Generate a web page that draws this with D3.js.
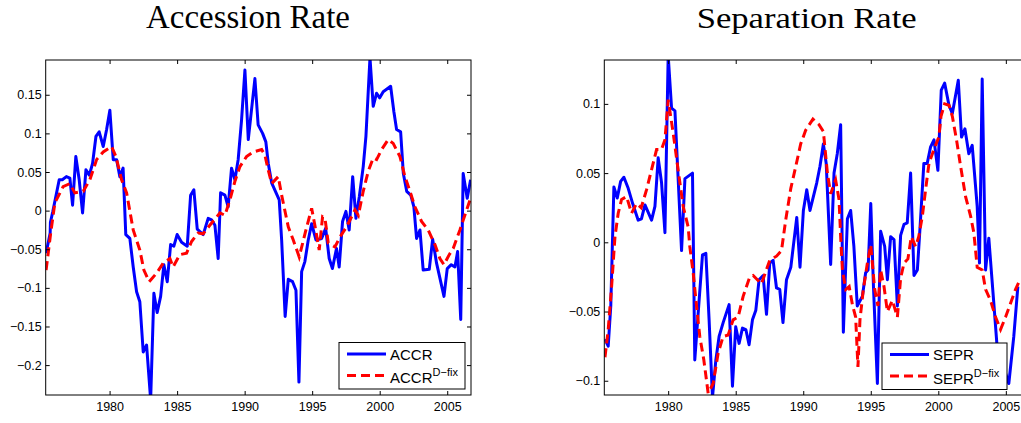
<!DOCTYPE html>
<html>
<head>
<meta charset="utf-8">
<script src="https://cdn.jsdelivr.net/npm/d3@7"></script>
<style>
	body { margin: 0; background: #fff; }
	svg { display: block; }
</style>
</head>
<body>
<div id="chart"></div>
<script>
// accession rate, quarterly
const accrYears = [1975.30,1975.60,1975.62,1975.80,1976.27,1976.50,1976.80,1977.06,1977.26,1977.50,1977.75,1978.00,1978.25,1978.50,1978.74,1978.99,1979.23,1979.53,1979.78,1980.02,1980.27,1980.52,1980.76,1981.00,1981.20,1981.50,1981.75,1982.00,1982.24,1982.49,1982.74,1983.04,1983.28,1983.52,1983.78,1984.02,1984.27,1984.52,1984.76,1985.00,1985.33,1985.75,1986.00,1986.24,1986.49,1986.93,1987.30,1987.55,1987.80,1988.04,1988.22,1988.54,1988.78,1989.03,1989.28,1989.52,1989.77,1990.02,1990.27,1990.76,1991.00,1991.33,1991.57,1991.75,1992.00,1992.56,1992.74,1993.00,1993.23,1993.55,1993.80,1994.02,1994.22,1994.46,1994.71,1994.96,1995.28,1995.70,1996.00,1996.26,1996.50,1996.80,1997.00,1997.25,1997.50,1997.74,1998.00,1998.24,1998.49,1998.78,1998.98,1999.28,1999.52,1999.77,2000.00,2000.26,2000.81,2001.05,2001.25,2001.55,2001.75,2002.00,2002.30,2002.53,2002.73,2002.98,2003.22,2003.67,2003.92,2004.21,2004.76,2005.00,2005.30,2005.57,2005.77,2006.00,2006.18,2006.48,2006.73];
const accrValues = [-0.055,-0.029,-0.015,-0.001,0.040,0.040,0.044,0.042,0.007,0.070,0.040,-0.003,0.053,0.046,0.061,0.096,0.102,0.083,0.105,0.130,0.066,0.066,0.044,0.055,-0.031,-0.036,-0.073,-0.105,-0.118,-0.183,-0.174,-0.245,-0.107,-0.132,-0.111,-0.070,-0.092,-0.044,-0.046,-0.031,-0.041,-0.046,0.020,0.027,-0.024,-0.031,-0.010,-0.012,-0.019,-0.062,0.023,0.020,0.005,0.055,0.040,0.066,0.117,0.182,0.092,0.171,0.111,0.100,0.089,0.061,0.036,0.014,-0.038,-0.137,-0.089,-0.092,-0.103,-0.222,-0.079,-0.066,-0.038,-0.017,-0.038,-0.036,-0.023,-0.062,-0.075,-0.049,-0.073,-0.014,-0.001,-0.025,0.044,-0.010,0.018,0.057,0.096,0.198,0.135,0.152,0.146,0.154,0.161,0.128,0.105,0.102,0.048,0.025,0.020,0.005,-0.036,-0.025,-0.077,-0.076,-0.037,-0.068,-0.111,-0.075,-0.070,-0.073,-0.053,-0.141,0.048,0.016,0.040];

const accrFixYears = [1975.30,1975.64,1975.95,1976.56,1977.06,1977.43,1978.05,1978.54,1979.04,1979.53,1980.15,1980.47,1980.89,1981.26,1981.75,1982.24,1982.54,1982.93,1983.48,1983.97,1984.47,1984.70,1985.20,1985.70,1986.07,1986.56,1986.93,1987.42,1988.17,1988.54,1988.91,1989.28,1989.65,1990.14,1990.64,1991.26,1991.50,1991.74,1992.00,1992.49,1992.74,1993.23,1993.60,1994.04,1994.54,1994.96,1995.20,1995.52,1995.77,1995.95,1996.19,1996.69,1997.06,1997.55,1998.17,1998.42,1998.78,1999.15,1999.52,1999.77,2000.14,2000.63,2001.00,2001.50,2001.87,2002.24,2002.61,2003.10,2003.59,2004.09,2004.46,2004.76,2005.15,2005.44,2005.94,2006.44,2006.73];
const accrFixValues = [-0.077,-0.029,0.010,0.031,0.035,0.023,0.025,0.040,0.066,0.076,0.083,0.070,0.040,0.023,-0.025,-0.051,-0.077,-0.092,-0.081,-0.068,-0.062,-0.073,-0.057,-0.055,-0.040,-0.029,-0.030,-0.019,-0.003,-0.006,0.014,0.038,0.057,0.070,0.076,0.079,0.072,0.053,0.035,0.044,0.020,-0.021,-0.038,-0.060,-0.025,0.003,-0.019,-0.051,-0.008,-0.010,-0.042,-0.047,-0.034,-0.021,0.001,-0.006,0.025,0.051,0.068,0.066,0.079,0.092,0.087,0.070,0.044,0.025,0.005,-0.014,-0.025,-0.044,-0.062,-0.070,-0.057,-0.049,-0.025,0.001,0.016];

// separation rate
const seprYears = [1975.32,1975.56,1975.75,1975.98,1976.23,1976.48,1976.72,1977.04,1977.37,1977.78,1978.02,1978.28,1978.77,1979.02,1979.26,1979.51,1979.76,1980.00,1980.25,1980.50,1980.99,1981.24,1981.80,1981.97,1982.29,1982.54,1982.79,1983.03,1983.28,1983.53,1983.77,1984.07,1984.51,1984.76,1985.00,1985.25,1985.50,1985.75,1985.99,1986.24,1986.49,1986.73,1987.03,1987.28,1987.52,1987.77,1988.02,1988.26,1988.50,1988.76,1989.08,1989.52,1989.76,1990.01,1990.26,1990.50,1991.00,1991.24,1991.49,1991.70,1992.03,1992.28,1992.52,1992.77,1992.97,1993.27,1993.51,1993.75,1994.00,1994.38,1994.62,1994.80,1995.00,1995.20,1995.49,1995.73,1996.03,1996.23,1996.47,1996.72,1996.97,1997.21,1997.46,1997.70,1997.95,1998.20,1998.45,1998.65,1998.93,1999.18,1999.43,1999.68,1999.97,2000.22,2000.47,2000.79,2001.04,2001.48,2001.72,2001.97,2002.26,2002.51,2002.88,2003.05,2003.25,2003.50,2003.74,2004.11,2004.35,2004.73,2005.22,2005.59,2005.89];
const seprValues = [-0.070,-0.075,-0.046,0.040,0.032,0.044,0.047,0.039,0.028,0.016,0.017,0.027,0.016,0.026,0.061,0.043,0.007,0.135,0.097,0.095,-0.006,0.046,0.050,-0.085,-0.042,-0.009,-0.008,-0.056,-0.112,-0.085,-0.068,-0.058,-0.045,-0.104,-0.061,-0.073,-0.062,-0.063,-0.074,-0.056,-0.049,-0.027,-0.024,-0.052,-0.015,-0.013,-0.033,-0.034,-0.058,-0.027,-0.018,0.018,-0.018,0.023,0.038,0.023,0.043,0.055,0.071,0.057,-0.016,0.050,0.064,0.085,-0.065,0.017,0.023,-0.003,-0.046,-0.039,-0.022,-0.020,0.028,-0.032,-0.102,0.008,-0.003,-0.027,0.004,0.002,-0.046,0.005,0.013,0.014,0.050,-0.024,-0.020,0.011,0.057,0.057,0.069,0.074,0.052,0.110,0.115,0.099,0.093,0.117,0.076,0.082,0.064,0.070,0.026,-0.015,0.118,-0.020,0.003,-0.044,-0.075,-0.087,-0.102,-0.068,-0.032];

const seprFixYears = [1975.32,1975.56,1975.81,1976.06,1976.30,1976.55,1976.92,1977.29,1977.66,1978.00,1978.40,1979.14,1979.50,1979.76,1980.00,1980.37,1980.74,1981.11,1981.48,1981.60,1981.85,1982.10,1982.34,1982.64,1982.96,1983.33,1983.70,1984.07,1984.44,1984.81,1985.18,1985.55,1986.04,1986.29,1986.90,1987.52,1988.02,1988.39,1988.70,1989.08,1989.45,1989.81,1990.18,1990.72,1991.17,1991.49,1991.79,1992.03,1992.40,1992.65,1992.78,1992.90,1993.15,1993.40,1993.64,1993.88,1994.05,1994.20,1994.45,1994.75,1995.00,1995.29,1995.53,1995.73,1995.98,1996.23,1996.60,1996.97,1997.21,1997.46,1997.75,1998.00,1998.32,1998.55,1998.82,1999.06,1999.31,1999.67,2000.04,2000.20,2000.47,2000.79,2001.04,2001.35,2001.65,2002.02,2002.39,2002.63,2002.88,2003.25,2003.50,2003.87,2004.24,2004.61,2004.98,2005.35,2005.72,2006.09];
const seprFixValues = [-0.083,-0.063,-0.032,0.004,0.021,0.031,0.033,0.021,0.028,0.025,0.038,0.067,0.067,0.074,0.103,0.079,0.052,0.026,0.011,-0.003,-0.022,-0.046,-0.068,-0.085,-0.109,-0.102,-0.080,-0.068,-0.067,-0.056,-0.054,-0.039,-0.025,-0.024,-0.030,-0.013,-0.010,-0.006,0.016,0.039,0.055,0.071,0.081,0.089,0.085,0.080,0.050,0.035,0.045,0.031,0.002,-0.020,-0.034,-0.032,-0.045,-0.054,-0.090,-0.056,-0.034,-0.015,-0.002,-0.034,-0.046,-0.020,-0.032,-0.050,-0.042,-0.054,-0.026,-0.015,-0.012,0.004,-0.003,0.004,0.019,0.038,0.057,0.067,0.076,0.091,0.100,0.099,0.091,0.074,0.055,0.033,0.019,0.007,-0.018,-0.020,-0.034,-0.042,-0.054,-0.063,-0.054,-0.044,-0.034,-0.026];

const yearTicks = [1980, 1985, 1990, 1995, 2000, 2005];
const accTicks = [-0.2, -0.15, -0.1, -0.05, 0, 0.05, 0.1, 0.15];
const sepTicks = [-0.1, -0.05, 0, 0.05, 0.1];

const widthSvg = 1021;
const heightSvg = 423;

const svg = d3.select('#chart').append('svg')
	.attr('width', widthSvg)
	.attr('height', heightSvg);

const toPoints = (years, values) => years.map((y, i) => ({year: y, value: values[i]}));

const tickLabel = d => String(d).replace('-', '\u2212');

const createPanel = (p) => {
	const xScale = d3.scaleLinear()
		.domain([1975.27, 2006.76])
		.range([p.left, p.right]);
	const yScale = d3.scaleLinear()
		.domain(p.yDomain)
		.range([p.bottom, p.top]);

	const g = svg.append('g').attr('id', p.id);

	g.append('clipPath').attr('id', p.id + '-clip')
		.append('rect')
		.attr('x', p.left).attr('y', p.top)
		.attr('width', p.right - p.left)
		.attr('height', p.bottom - p.top);

	const line = d3.line()
		.x(d => xScale(d.year))
		.y(d => yScale(d.value));

	const plot = g.append('g').attr('clip-path', `url(#${p.id}-clip)`);
	plot.append('path')
		.datum(p.main)
		.attr('d', line)
		.attr('fill', 'none')
		.attr('stroke', '#0000ff')
		.attr('stroke-width', 3)
		.attr('stroke-linejoin', 'round');
	plot.append('path')
		.datum(p.fix)
		.attr('d', line)
		.attr('fill', 'none')
		.attr('stroke', '#ff0000')
		.attr('stroke-width', 3)
		.attr('stroke-dasharray', '9,5');

	// axes, ticks pointing inward like matlab
	const styleAxis = sel => {
		sel.select('.domain').remove();
		sel.selectAll('line').attr('stroke', '#000');
		sel.selectAll('text')
			.attr('fill', '#000')
			.style('font-family', "'Liberation Sans', Arial, sans-serif")
			.style('font-size', '12.5px');
	};

	g.append('g')
		.attr('transform', `translate(0,${p.bottom})`)
		.call(d3.axisBottom(xScale).tickValues(yearTicks).tickFormat(d3.format('d'))
			.tickSizeInner(-4).tickSizeOuter(0).tickPadding(7.5))
		.call(styleAxis);
	g.append('g')
		.attr('transform', `translate(0,${p.top})`)
		.call(d3.axisTop(xScale).tickValues(yearTicks).tickFormat('')
			.tickSizeInner(-4).tickSizeOuter(0))
		.call(styleAxis);
	g.append('g')
		.attr('transform', `translate(${p.left},0)`)
		.call(d3.axisLeft(yScale).tickValues(p.yTicks).tickFormat(tickLabel)
			.tickSizeInner(-4).tickSizeOuter(0).tickPadding(4))
		.call(styleAxis);
	g.append('g')
		.attr('transform', `translate(${p.right},0)`)
		.call(d3.axisRight(yScale).tickValues(p.yTicks).tickFormat('')
			.tickSizeInner(-4).tickSizeOuter(0))
		.call(styleAxis);

	g.append('rect')
		.attr('x', p.left).attr('y', p.top)
		.attr('width', p.right - p.left)
		.attr('height', p.bottom - p.top)
		.attr('fill', 'none')
		.attr('stroke', '#000')
		.attr('stroke-width', 1);

	g.append('text')
		.attr('x', p.titleX)
		.attr('y', p.titleY)
		.attr('text-anchor', 'middle')
		.attr('textLength', p.titleLen)
		.attr('lengthAdjust', 'spacingAndGlyphs')
		.style('font-family', "'Liberation Serif', 'Times New Roman', serif")
		.style('font-size', p.titleSize + 'px')
		.text(p.title);

	// legend
	const lg = g.append('g').attr('transform', `translate(${p.legendX},${p.legendY})`);
	lg.append('rect')
		.attr('width', p.legendW).attr('height', 46.5)
		.attr('fill', '#fff')
		.attr('stroke', '#000')
		.attr('stroke-width', 1);
	lg.append('line')
		.attr('x1', 8).attr('x2', 47).attr('y1', 11.5).attr('y2', 11.5)
		.attr('stroke', '#0000ff').attr('stroke-width', 3);
	lg.append('line')
		.attr('x1', 8).attr('x2', 47).attr('y1', 33).attr('y2', 33)
		.attr('stroke', '#ff0000').attr('stroke-width', 3)
		.attr('stroke-dasharray', '9,5');
	const legendFont = "'Liberation Sans', Arial, sans-serif";
	lg.append('text')
		.attr('x', 51).attr('y', 17)
		.style('font-family', legendFont)
		.style('font-size', '15px')
		.text(p.name);
	const t2 = lg.append('text')
		.attr('x', 51).attr('y', 40.8)
		.style('font-family', legendFont)
		.style('font-size', '15px');
	t2.append('tspan').text(p.name);
	t2.append('tspan')
		.attr('dy', -7)
		.style('font-size', '11px')
		.text('D\u2212fix');
};

createPanel({
	id: 'accr',
	left: 45.7, right: 471, top: 60, bottom: 395,
	yDomain: [-0.2387, 0.195],
	yTicks: accTicks,
	main: toPoints(accrYears, accrValues),
	fix: toPoints(accrFixYears, accrFixValues),
	title: 'Accession Rate', titleX: 248, titleY: 27.5, titleLen: 204, titleSize: 33,
	name: 'ACCR',
	legendX: 339, legendY: 342.5, legendW: 126
});

createPanel({
	id: 'sepr',
	left: 604.3, right: 1029.6, top: 60, bottom: 395,
	yDomain: [-0.1103, 0.1317],
	yTicks: sepTicks,
	main: toPoints(seprYears, seprValues),
	fix: toPoints(seprFixYears, seprFixValues),
	title: 'Separation Rate', titleX: 806.7, titleY: 27.5, titleLen: 220, titleSize: 30,
	name: 'SEPR',
	legendX: 882, legendY: 343, legendW: 125
});
</script>
</body>
</html>
